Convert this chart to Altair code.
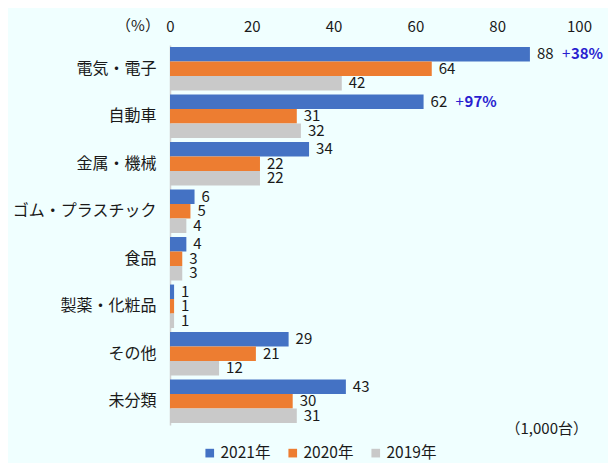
import altair as alt
import pandas as pd

categories = ["電気・電子", "自動車", "金属・機械", "ゴム・プラスチック", "食品", "製薬・化粧品", "その他", "未分類"]
years = ["2021年", "2020年", "2019年"]
v2021 = [88, 62, 34, 6, 4, 1, 29, 43]
v2020 = [64, 31, 22, 5, 3, 1, 21, 30]
v2019 = [42, 32, 22, 4, 3, 1, 12, 31]
growth_cats = ["電気・電子", "自動車"]
growth_vals = [88, 62]
growth_text = ["38%", "97%"]
colors = ["#4472C4", "#ED7D31", "#C9C9C9"]
x_ticks = [0, 20, 40, 60, 80, 100]

FONT = "Noto Sans CJK JP"
TXT = "#1A1A1A"
ACCENT = "#2A1ED0"

rows = []
for i, c in enumerate(categories):
    for y, vals in zip(years, [v2021, v2020, v2019]):
        rows.append({"cat": c, "year": y, "value": vals[i]})
df = pd.DataFrame(rows)

ann = pd.DataFrame({"cat": growth_cats, "year": ["2021年"] * 2, "value": growth_vals,
                    "plus": ["+"] * 2, "pct": growth_text})

y_enc = alt.Y("cat:N", sort=categories, title=None,
              scale=alt.Scale(paddingInner=0.085, paddingOuter=0.04),
              axis=alt.Axis(ticks=False, tickSize=0, labelPadding=14, domain=True,
                            domainColor="#D0D0D0", domainWidth=1.5, labelFontSize=16,
                            labelColor=TXT, labelFont=FONT))
yoff_enc = alt.YOffset("year:N", sort=years, scale=alt.Scale(paddingInner=0, paddingOuter=0))
x_enc = alt.X("value:Q", title=None, scale=alt.Scale(domain=[0, 100]),
              axis=alt.Axis(orient="top", values=x_ticks, grid=False, ticks=False, tickSize=0,
                            domain=False, labelPadding=11, labelFontSize=15, labelFlush=False,
                            labelColor=TXT, labelFont=FONT))

bars = alt.Chart(df).mark_bar().encode(
    y=y_enc, yOffset=yoff_enc, x=x_enc,
    color=alt.Color("year:N", sort=years, scale=alt.Scale(domain=years, range=colors),
                    legend=alt.Legend(title=None, orient="none", direction="horizontal",
                                      legendX=32, legendY=400, padding=0,
                                      symbolType="square", symbolSize=75, symbolStrokeWidth=0,
                                      labelFontSize=15.5, labelFont=FONT, labelColor=TXT,
                                      labelOffset=3, columnPadding=14))
)

labels = alt.Chart(df).mark_text(align="left", baseline="middle", dx=7, fontSize=15,
                                 font=FONT, color=TXT).encode(
    y=alt.Y("cat:N", sort=categories), yOffset=alt.YOffset("year:N", sort=years),
    x="value:Q", text=alt.Text("value:Q", format=".0f"))

plus = alt.Chart(ann).mark_text(align="left", baseline="middle", dx=32, fontSize=15,
                                font=FONT, color=ACCENT).encode(
    y=alt.Y("cat:N", sort=categories), yOffset=alt.YOffset("year:N", sort=years),
    x="value:Q", text="plus:N")

pct = alt.Chart(ann).mark_text(align="left", baseline="middle", dx=41, fontSize=15,
                               fontWeight="bold", font=FONT, color=ACCENT).encode(
    y=alt.Y("cat:N", sort=categories), yOffset=alt.YOffset("year:N", sort=years),
    x="value:Q", text="pct:N")

unit_pct = alt.Chart(pd.DataFrame({"t": ["（%）"]})).mark_text(
    align="center", baseline="middle", fontSize=15, font=FONT, color=TXT).encode(
    text="t:N", x=alt.value(-32), y=alt.value(-19))

unit_cnt = alt.Chart(pd.DataFrame({"t": ["（1,000台）"]})).mark_text(
    align="right", baseline="middle", fontSize=15, font=FONT, color=TXT).encode(
    text="t:N", x=alt.value(418), y=alt.value(384))

chart = alt.layer(bars, labels, plus, pct, unit_pct, unit_cnt).properties(
    width=409, height=380,
    autosize=alt.AutoSizeParams(type="none"),
    padding={"left": 162, "top": 37, "right": 29, "bottom": 38},
    background="#F0FFFF",
).configure_view(stroke=None)

chart.save("out.html", embed_options={"renderer": "svg", "actions": False})
